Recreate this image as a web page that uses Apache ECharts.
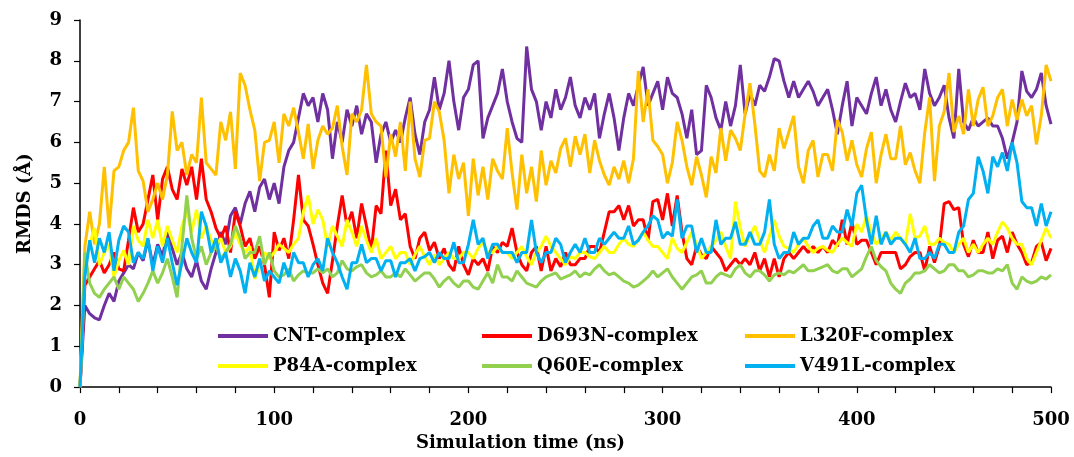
<!DOCTYPE html>
<html>
<head>
<meta charset="utf-8">
<script src="https://cdn.jsdelivr.net/npm/echarts@6/dist/echarts.min.js"></script>
<style>html,body{margin:0;padding:0;background:#fff}#c{width:1074px;height:457px}</style>
</head>
<body>
<div id="c"></div>
<script>
// sampling step of the trajectories (ns)
const stepNs = 2.5;
const seriesNames = ['CNT-complex','D693N-complex','L320F-complex','P84A-complex','Q60E-complex','V491L-complex'];
const xTicks = [0,100,200,300,400,500];
const yTicks = [0,1,2,3,4,5,6,7,8,9];

const cnt = [
0,2.0,1.8,1.7,1.65,2.0,2.3,2.1,
2.6,2.8,3.0,2.9,3.3,3.1,3.6,3.0,
3.5,3.2,3.8,3.4,3.0,3.3,2.9,2.7,
3.1,2.6,2.4,2.9,3.3,3.8,3.5,4.2,
4.4,4.0,4.5,4.8,4.3,4.9,5.1,4.6,
5.0,4.5,5.4,5.8,6.0,6.6,7.2,6.9,
7.1,6.5,7.2,6.8,5.6,6.5,6.0,6.8,
6.4,6.9,6.2,6.7,6.5,5.5,6.2,6.5,
6.0,6.3,6.0,6.6,7.1,6.2,5.7,6.5,
6.8,7.6,6.8,7.2,8.0,7.0,6.3,7.1,
7.3,7.9,8.0,6.1,6.6,6.9,7.2,7.8,
7.0,6.5,6.1,6.0,8.35,7.3,7.0,6.3,
7.0,6.6,7.3,6.8,7.1,7.6,6.9,6.6,
7.1,6.8,7.2,6.1,6.7,7.2,6.6,5.8,
6.6,7.2,6.9,7.4,7.85,6.9,7.2,7.5,
6.8,7.6,7.2,7.1,6.7,6.1,6.8,5.7,
5.8,7.4,7.1,6.6,6.3,7.0,6.4,6.9,
7.9,6.7,7.2,6.9,7.4,7.25,7.6,8.05,
8.0,7.5,7.1,7.5,7.1,7.3,7.5,7.25,
6.9,7.1,7.3,6.8,6.2,6.9,7.5,6.4,
7.1,6.9,6.7,7.2,7.6,6.9,7.3,6.8,
6.5,7.0,7.45,7.1,7.2,6.8,7.8,7.2,
6.9,7.1,7.4,6.6,6.1,7.8,6.5,6.3,
6.6,6.4,6.5,6.6,6.4,6.4,6.1,5.6,
6.0,6.5,7.75,7.25,7.1,7.3,7.7,6.9,
6.45];

const d693n = [
0,2.5,2.7,2.9,3.1,2.8,3.0,3.3,
2.9,2.85,3.6,4.4,3.8,4.0,4.6,5.2,
4.1,5.1,5.4,4.85,4.6,5.35,4.95,5.4,
4.6,5.6,4.6,4.3,3.9,3.65,3.95,3.3,
4.3,3.95,3.45,3.65,3.15,3.45,3.0,2.2,
3.8,3.35,3.65,3.15,4.1,5.2,4.1,3.95,
3.5,3.0,2.55,2.3,3.1,3.95,4.7,3.95,
4.3,3.65,4.5,3.95,3.35,4.45,4.25,5.8,
4.45,4.85,4.1,4.25,3.45,3.15,3.65,3.8,
3.35,3.55,3.15,3.4,3.0,2.85,3.45,3.0,
2.75,3.15,3.0,3.15,2.85,3.45,3.3,3.55,
3.45,3.9,3.3,3.0,2.85,3.3,3.45,2.85,
3.45,2.85,3.15,2.95,3.3,3.0,3.0,3.15,
3.15,3.45,3.45,3.3,3.8,4.3,4.3,4.45,
4.1,4.45,3.95,4.1,4.1,3.6,4.55,4.6,
4.1,4.75,3.95,4.7,3.8,3.15,3.0,3.45,
3.25,3.15,3.45,3.3,3.15,2.85,3.0,3.15,
3.0,3.15,3.0,3.3,2.85,3.15,2.7,3.15,
2.7,3.15,3.3,3.15,3.3,3.45,3.3,3.45,
3.3,3.45,3.3,3.6,3.45,4.1,3.5,4.05,
3.5,3.6,3.6,3.3,3.0,3.3,3.3,3.3,
3.3,2.9,3.0,3.2,3.3,3.3,2.85,3.45,
3.05,3.45,4.5,4.55,4.35,4.4,3.5,3.2,
3.6,3.3,3.3,3.8,3.15,3.6,3.7,3.3,
3.8,3.5,3.3,3.0,3.05,3.45,3.55,3.1,
3.4];

const l320f = [
0,3.45,4.3,3.5,4.0,5.4,3.9,5.3,
5.4,5.8,6.0,6.85,5.3,5.05,4.3,4.6,
5.0,4.6,5.2,6.76,5.8,6.0,5.2,5.7,
5.5,7.1,5.5,5.35,5.2,6.5,6.05,6.75,
5.35,7.7,7.4,6.8,6.3,5.05,6.0,6.05,
6.5,5.5,6.7,6.4,6.85,6.25,5.6,6.45,
5.35,6.05,6.4,6.2,6.35,6.9,5.9,5.2,
6.7,6.5,6.8,7.9,6.7,6.5,6.4,5.15,
6.2,5.65,6.5,5.3,7.0,5.6,5.15,6.05,
6.1,7.0,6.75,6.05,4.75,5.7,5.1,5.5,
4.2,5.6,4.7,5.4,4.6,5.6,5.3,5.1,
6.35,5.25,4.35,5.7,4.75,5.4,4.55,5.8,
4.95,5.55,5.25,5.85,6.1,5.4,6.15,5.7,
6.2,5.25,6.05,5.55,5.2,4.95,5.4,5.1,
5.55,5.0,5.6,7.75,6.5,7.3,6.05,5.9,
5.7,5.0,5.5,6.5,6.05,5.4,4.95,5.65,
5.2,4.65,5.65,5.25,6.35,5.55,6.3,6.1,
5.8,6.7,7.45,6.45,5.3,5.15,5.7,5.3,
6.35,5.85,6.25,6.65,5.4,5.0,5.8,6.05,
5.15,5.7,5.7,5.3,6.55,6.25,5.55,6.05,
5.45,5.15,5.85,6.25,5.0,5.7,6.2,5.6,
5.6,6.4,5.45,5.75,5.3,5.0,6.25,7.1,
5.05,6.4,6.75,7.7,6.25,6.65,6.2,7.3,
6.4,7.05,7.35,6.4,6.65,7.1,7.3,6.4,
7.05,6.55,7.05,6.65,6.9,5.95,6.65,7.9,
7.5];

const p84a = [
0,2.9,3.5,3.9,3.0,3.3,3.5,2.7,
3.1,3.35,3.0,3.95,3.6,3.45,4.1,3.65,
4.1,3.45,3.95,3.6,3.3,3.95,4.3,3.8,
4.35,3.65,3.95,3.6,3.45,3.65,3.3,3.45,
3.8,3.5,3.3,3.45,2.65,3.0,3.3,3.15,
3.3,3.5,3.4,3.3,3.5,3.65,4.3,4.7,
4.0,4.35,4.1,3.45,3.95,3.7,3.45,4.1,
3.8,3.45,3.95,3.6,3.3,3.65,3.15,3.3,
3.45,3.15,3.3,3.3,3.0,3.25,3.45,3.2,
3.0,3.25,3.0,3.15,3.3,3.15,3.15,3.3,
3.3,3.15,3.4,3.55,3.3,3.3,3.45,3.3,
3.3,3.15,3.3,3.45,3.2,3.0,3.3,3.45,
3.7,3.45,3.3,3.15,3.0,3.2,3.15,3.3,
3.3,3.2,3.15,3.3,3.45,3.3,3.3,3.5,
3.65,3.5,3.45,3.6,3.8,3.6,3.45,3.45,
3.3,3.15,3.65,3.4,3.3,3.55,3.8,3.5,
3.15,3.3,3.45,3.6,3.8,3.45,3.15,4.55,
3.9,3.45,3.7,3.95,3.6,3.3,3.7,4.1,
3.7,3.45,3.4,3.3,3.5,3.65,3.45,3.3,
3.4,3.45,3.35,3.3,3.5,3.65,3.55,3.45,
4.0,3.8,4.2,3.8,3.5,3.65,3.8,3.6,
3.8,3.65,3.5,4.25,3.65,3.7,3.95,3.5,
3.5,3.65,3.55,3.5,3.3,3.5,3.65,3.3,
3.5,3.3,3.5,3.65,3.5,3.8,4.05,3.9,
3.65,3.5,3.5,3.15,3.0,3.3,3.6,3.9,
3.65];

const q60e = [
0,3.3,2.55,2.3,2.2,2.4,2.55,2.7,
2.4,2.7,2.55,2.4,2.1,2.3,2.55,2.85,
2.55,2.8,3.15,2.7,2.2,3.45,4.7,3.65,
3.15,3.45,3.0,3.3,3.45,3.15,3.3,3.5,
3.95,3.65,3.15,3.3,3.3,3.7,3.0,3.3,
2.85,2.7,2.75,2.9,2.6,2.75,2.85,2.8,
2.8,2.9,2.8,2.9,2.7,2.8,3.1,2.9,
2.85,2.95,3.0,2.8,2.7,2.75,2.85,2.7,
2.7,2.8,2.7,2.9,2.75,2.6,2.7,2.8,
2.8,2.65,2.45,2.6,2.7,2.55,2.45,2.6,
2.6,2.45,2.4,2.6,2.8,2.55,3.0,2.7,
2.7,2.6,2.85,2.7,2.55,2.5,2.45,2.6,
2.7,2.75,2.8,2.65,2.7,2.75,2.85,2.7,
2.8,2.75,2.9,3.0,2.85,2.75,2.8,2.7,
2.6,2.55,2.45,2.5,2.6,2.7,2.85,2.7,
2.8,2.9,2.7,2.55,2.4,2.55,2.7,2.75,
2.85,2.55,2.55,2.7,2.8,2.75,2.7,2.9,
3.0,2.8,2.7,2.85,2.85,2.75,2.6,2.75,
2.8,2.75,2.85,2.8,2.9,3.0,2.85,2.85,
2.9,2.95,3.0,2.85,2.8,2.9,2.9,2.7,
2.8,2.9,3.2,3.45,3.1,2.95,2.85,2.55,
2.4,2.3,2.55,2.65,2.8,2.8,2.85,3.0,
2.9,2.8,2.85,3.0,3.0,2.85,2.85,2.7,
2.75,2.85,2.85,2.8,2.8,2.9,2.85,3.0,
2.55,2.4,2.7,2.6,2.55,2.6,2.7,2.65,
2.75];

const v491l = [
0,2.7,3.6,3.05,3.65,3.3,3.8,2.85,
3.6,3.95,3.8,3.05,3.3,3.15,3.65,2.85,
3.45,3.05,3.65,3.05,2.5,3.05,3.65,3.3,
3.05,4.3,3.95,3.3,3.65,3.05,3.3,2.7,
3.15,2.85,2.3,3.05,2.7,3.15,2.6,2.85,
2.7,2.55,3.05,2.7,3.3,3.05,3.05,2.7,
3.0,3.15,2.85,3.65,3.3,3.05,2.7,2.4,
3.05,3.05,3.5,3.05,3.15,3.15,2.85,3.1,
3.1,2.7,3.05,3.05,3.15,2.85,3.15,3.2,
3.3,3.05,3.3,3.15,3.15,3.55,3.05,3.05,
3.5,4.1,3.5,3.65,3.15,3.5,3.5,3.3,
3.3,3.3,3.05,3.3,3.3,4.1,3.3,3.05,
3.3,3.3,3.65,3.5,3.05,3.3,3.5,3.3,
3.65,3.3,3.3,3.65,3.5,3.65,3.8,3.65,
3.65,3.95,3.5,3.6,3.8,3.95,4.2,4.1,
3.65,3.8,3.7,4.6,3.65,3.95,3.95,3.3,
3.65,3.3,3.3,4.1,3.5,3.65,3.65,4.05,
3.5,3.5,3.8,3.5,3.5,3.8,4.6,3.5,
3.15,3.3,3.3,3.8,3.5,3.65,3.65,3.95,
4.1,3.65,3.65,3.95,3.8,3.8,4.35,3.95,
4.75,4.95,4.1,3.5,4.2,3.5,3.8,3.5,
3.65,3.65,3.5,3.3,3.65,3.15,3.15,3.3,
3.15,3.5,3.5,3.3,3.3,3.8,3.95,4.6,
4.75,5.65,5.3,4.75,5.65,5.4,5.75,5.3,
6.0,5.5,4.55,4.4,4.4,3.95,4.5,3.95,
4.3];

const seriesValues = [cnt, d693n, l320f, p84a, q60e, v491l];
const colors = ['#7030A0','#FF0000','#FFC000','#FFFF00','#92D050','#00B0F0'];

const FONT = 'DejaVu Serif';
const pairs = vals => vals.map((v, i) => [i * stepNs, v]);

const legendPos = [
  [213, 322], [477, 322], [740, 322],
  [213, 352], [477, 352], [740, 352]
];
const orderForLegend = [0,1,2,3,4,5];

const chart = echarts.init(document.getElementById('c'), null, {renderer: 'canvas'});
chart.setOption({
  animation: false,
  backgroundColor: '#fff',
  grid: {left: 80, right: 23, top: 20, bottom: 64, containLabel: false},
  legend: orderForLegend.map((k, j) => ({
    data: [seriesNames[k]],
    left: legendPos[j][0], top: legendPos[j][1],
    icon: 'rect', itemWidth: 50, itemHeight: 4, itemGap: 0,
    selectedMode: false,
    textStyle: {fontFamily: FONT, fontWeight: 'bold', fontSize: 18, color: '#000'}
  })),
  xAxis: {
    type: 'value', min: xTicks[0], max: xTicks[xTicks.length - 1], interval: 100,
    name: 'Simulation time (ns)', nameLocation: 'middle', nameGap: 46,
    nameTextStyle: {fontFamily: FONT, fontWeight: 'bold', fontSize: 18, color: '#000', padding: [0, 90, 0, 0]},
    axisLine: {show: true, onZero: false, lineStyle: {color: '#000', width: 1.5}},
    axisTick: {show: true, length: 6, lineStyle: {color: '#000', width: 1.2}},
    minorTick: {show: true, splitNumber: 5, length: 6, lineStyle: {color: '#000', width: 1.2}},
    axisLabel: {fontFamily: FONT, fontWeight: 'bold', fontSize: 18, color: '#000', margin: 24},
    splitLine: {show: false}
  },
  yAxis: {
    type: 'value', min: yTicks[0], max: yTicks[yTicks.length - 1], interval: 1,
    name: 'RMDS (Å)', nameLocation: 'middle', nameGap: 46, nameRotate: 90,
    nameTextStyle: {fontFamily: FONT, fontWeight: 'bold', fontSize: 18, color: '#000'},
    axisLine: {show: true, lineStyle: {color: '#000', width: 1.5}},
    axisTick: {show: true, length: 6, lineStyle: {color: '#000', width: 1.2}},
    axisLabel: {fontFamily: FONT, fontWeight: 'bold', fontSize: 18, color: '#000', margin: 18},
    splitLine: {show: false}
  },
  series: seriesNames.map((n, k) => ({
    name: n, type: 'line', data: pairs(seriesValues[k]),
    showSymbol: false, symbol: 'none',
    lineStyle: {color: colors[k], width: 3},
    itemStyle: {color: colors[k]},
    z: 2 + k
  }))
});
</script>
</body>
</html>
